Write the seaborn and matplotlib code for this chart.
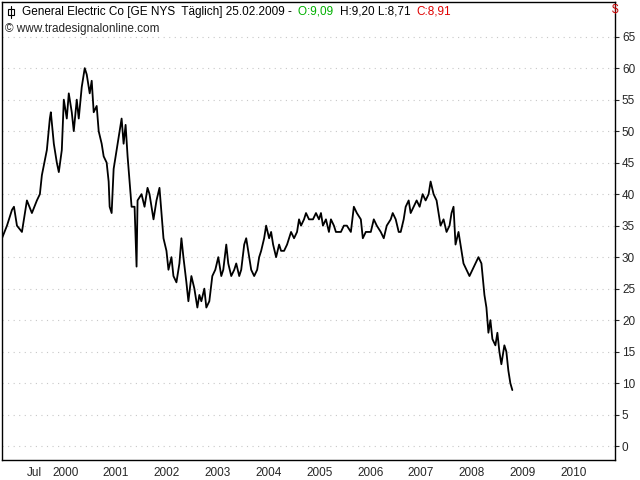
import numpy as np
import pandas as pd
import matplotlib
matplotlib.use("Agg")
import matplotlib.pyplot as plt
import matplotlib.transforms as mt
import seaborn as sns

# pixel-x positions (converted to fractional years below) and prices
px = [0,5,10,12,15,20,22,25,30,35,38,40,45,48,49,52,55,57,60,62,65,67,70,72,75,77,80,83,85,88,90,92,95,97,
      100,102,105,107,108,110,112,115,118,120,122,124,126,128,130,133,134,135,136,140,143,146,148,152,155,158,
      160,162,165,167,170,172,175,178,180,182,185,187,190,193,196,198,200,203,205,208,211,214,217,220,222,225,
      227,230,233,235,238,240,243,245,248,250,253,256,258,260,263,265,268,270,272,275,278,280,283,286,290,293,
      296,298,300,303,305,308,312,315,318,320,322,325,328,330,333,335,340,343,346,350,353,356,360,362,365,368,
      370,373,376,380,383,386,390,392,395,398,400,403,405,408,410,413,416,419,422,425,428,430,433,436,438,440,
      443,446,449,451,453,455,458,461,463,466,469,472,475,478,481,484,486,488,490,492,495,497,499,501,504,506,
      508,510,512]
price = [33,35,37.5,38,35,34,36,39,37,39,40,43,47,52,53,48,45,43.5,47,55,52,56,53,50,55,52,57,60,59,56,58,53,54,50,
         48,46,45,42,38,37,44,47,50,52,48,51,46,42,38,38,33,28.5,39,40,38,41,40,36,39,41,
         37,33,31,28,30,27,26,29,33,30,26,23,27,25,22,24,23,25,22,23,27,28,30,27,28,32,
         29,27,28,29,27,28,32,33,30,28,27,28,30,31,33,35,33,34,32,30,32,31,31,32,34,33,
         34,36,35,36,37,36,36,37,36,37,35,36,34,36,35,34,34,35,35,34,38,37,36,33,34,34,
         34,36,35,34,33,35,36,37,36,34,34,36,38,39,37,38,39,38,40,39,40,42,40,39,37,35,
         36,34,35,37,38,32,34,31,29,28,27,28,29,30,29,24,22,18,20,17,16,18,15,13,16,15,
         12,10,8.9]

dates = [2000 + (x - 51.6) / 51.0 for x in px]
df = pd.DataFrame({"date": dates, "price": price})

tick_pos = [1999.5] + list(range(2000, 2011))
tick_lab = ["Jul"] + [str(y) for y in range(2000, 2011)]
yticks = list(range(0, 70, 5))

sns.set_style("white")
plt.rcParams['font.family'] = ['Liberation Sans', 'DejaVu Sans']
fig = plt.figure(figsize=(6.4, 4.8), dpi=100)
ax = fig.add_axes([2/640, 20/480, 613/640, 458/480])
sns.lineplot(data=df, x="date", y="price", ax=ax, color="black", linewidth=1.3)

ax.set_xlim(2000 - 51.6/51, 2000 + (615-51.6)/51)
ax.set_ylim(-2.2, 70.5)
ax.yaxis.tick_right()
ax.set_yticks(yticks)
ax.set_yticklabels([str(v) for v in yticks], fontsize=8.5)
ax.set_xticks(tick_pos)
ax.set_xticklabels(tick_lab, fontsize=8.5, ha="left")
ax.tick_params(axis="x", length=4, width=0.8, direction="out", pad=1)
ax.tick_params(axis="y", length=3, width=0.8, direction="out", pad=2)
off = mt.ScaledTranslation(-1/72, 0, fig.dpi_scale_trans)
for lbl in ax.get_xticklabels():
    lbl.set_transform(lbl.get_transform() + off)
ax.set_xlabel("")
ax.set_ylabel("")
for y in yticks:
    ax.axhline(y, color="#c8c8c8", linestyle=(0, (1, 4)), linewidth=0.8, zorder=0)
for s in ax.spines.values():
    s.set_color("black")
    s.set_linewidth(1.0)

fs = 8.5
# header pieces placed one after another
fig.canvas.draw()
r = fig.canvas.get_renderer()
x = 22
pieces = [("General Electric Co [GE NYS  Täglich] 25.02.2009 - ", "black"),
          ("O:9,09 ", "#00b000"), ("H:9,20 L:8,71 ", "black"), ("C:8,91", "#e00000")]
for s, c in pieces:
    t = fig.text(x/640, 1 - 12/480, s, fontsize=fs, va="center", color=c)
    bb = t.get_window_extent(renderer=r)
    x += bb.width + (3 if s.endswith(" ") else 0)
fig.add_artist(plt.Line2D([11/640, 11/640], [1-6/480, 1-18/480], color="black", lw=0.8))
fig.add_artist(plt.Rectangle((8/640, 1-15/480), 6/640, 6/480, fill=False, ec="black", lw=0.8))
fig.text(5/640, 1 - 29/480, "© www.tradesignalonline.com", fontsize=fs, va="center")
fig.text(612/640, 1 - 10/480, "$", fontsize=fs, va="center", color="#c00000")

fig.savefig("out.png", dpi=100)
